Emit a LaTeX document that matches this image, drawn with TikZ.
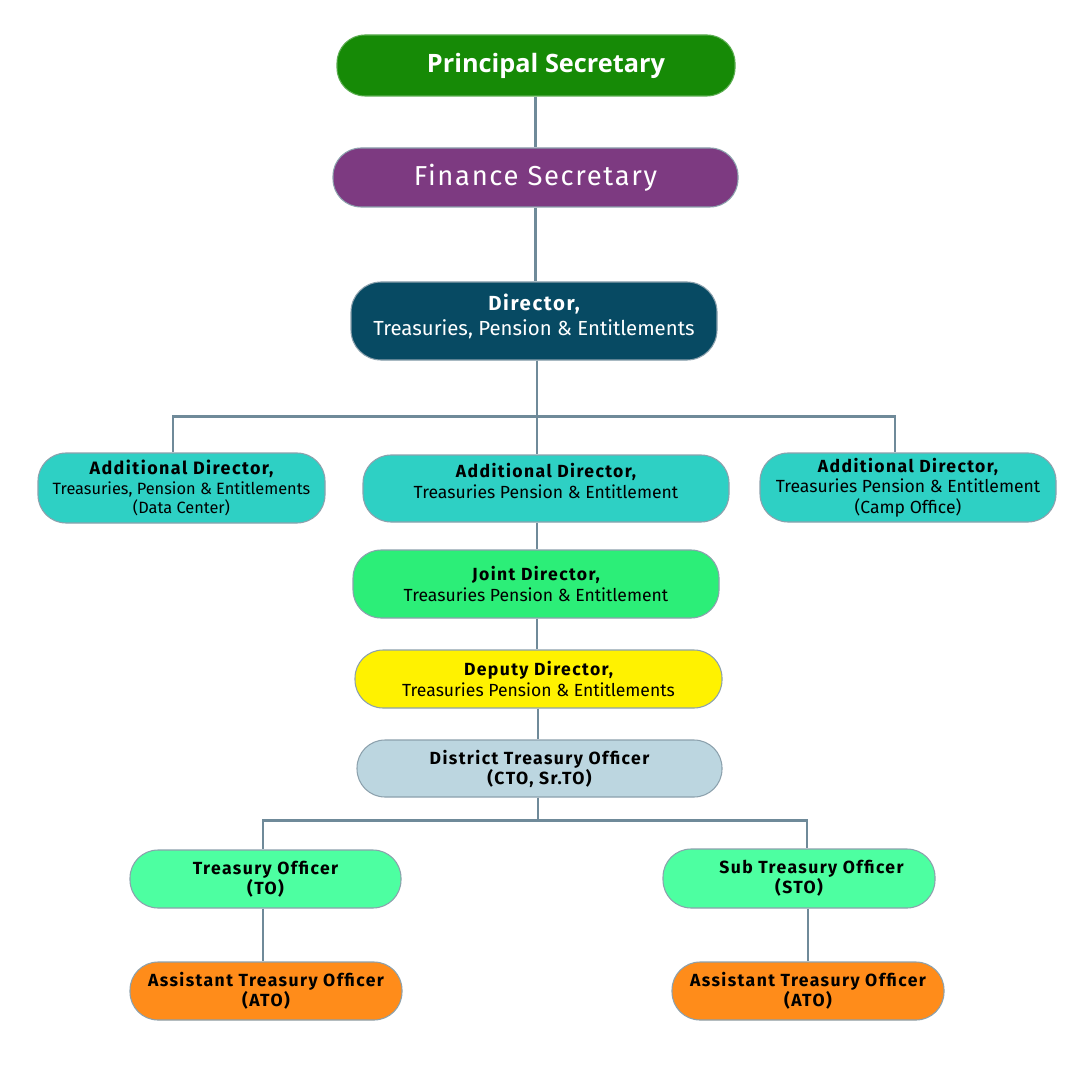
\documentclass[tikz,border=0pt]{standalone}
\usepackage{fontspec}
\setmainfont{Fira Sans}
\newfontfamily\headfont{Open Sans}
\usetikzlibrary{positioning}

\definecolor{psgreen}{HTML}{168A06}
\definecolor{fspurple}{HTML}{7D3A81}
\definecolor{dirblue}{HTML}{074A63}
\definecolor{adteal}{HTML}{2ED0C4}
\definecolor{jdgreen}{HTML}{2CEE78}
\definecolor{ddyellow}{HTML}{FFF200}
\definecolor{dtoblue}{HTML}{BCD6E0}
\definecolor{tomint}{HTML}{4DFFA1}
\definecolor{atoorange}{HTML}{FF8C1A}
\definecolor{linkgray}{HTML}{6F8A99}

% bold, spaced first line of a box
\newcommand{\hd}[1]{{\bfseries\addfontfeature{LetterSpace=8}#1}}

\begin{document}
\begin{tikzpicture}[
    box/.style={draw=linkgray!80, line width=0.3pt, rounded corners=0.28cm,
        align=center, inner sep=0pt, font=\fontsize{5}{5.9}\selectfont},
    boldbox/.style={box, font=\fontsize{5}{5.7}\selectfont\bfseries
        \addfontfeature{LetterSpace=8}},
    link/.style={draw=linkgray, line width=0.6pt}]
    \useasboundingbox (0,0) rectangle (10.8,-10.8);
    \fill[white] (0,0) rectangle (10.8,-10.8);

    \node[box, fill=psgreen, draw=psgreen!70!white, text=white,
        font=\headfont\bfseries\fontsize{7.2}{9}\selectfont,
        minimum width=3.98cm, minimum height=0.61cm] (principal) at (5.36,-0.655)
        {\hspace{0.2cm}Principal Secretary};
    \node[box, fill=fspurple, text=white, minimum width=4.05cm,
        font=\fontsize{7.8}{9}\selectfont\addfontfeature{LetterSpace=6},
        minimum height=0.59cm] (finance) at (5.355,-1.775) {Finance Secretary};
    \node[box, fill=dirblue, text=white, rounded corners=0.3cm,
        font=\fontsize{5.8}{7.1}\selectfont,
        minimum width=3.66cm, minimum height=0.78cm] (director) at (5.34,-3.21)
        {\hd{Director,}\\Treasuries, Pension \& Entitlements\\[-0.12cm]};

    \node[box, fill=adteal, minimum width=2.87cm, minimum height=0.70cm,
        font=\fontsize{4.65}{5.5}\selectfont] (adleft) at (1.815,-4.88)
        {\hd{\fontsize{5.1}{5.5}\selectfont Additional Director,}\\
        Treasuries, Pension \& Entitlements\\(Data Center)};
    \node[box, fill=adteal, minimum width=3.66cm, minimum height=0.67cm,
        font=\fontsize{5}{6}\selectfont] (admid) at (5.46,-4.885)
        {\hd{Additional Director,}\\Treasuries Pension \& Entitlement\\[-0.05cm]};
    \node[box, fill=adteal, minimum width=2.96cm, minimum height=0.69cm]
        (adright) at (9.08,-4.875)
        {\hd{Additional Director,}\\Treasuries Pension \& Entitlement\\
        (Camp Office)};

    \node[box, fill=jdgreen, minimum width=3.66cm, minimum height=0.68cm,
        font=\fontsize{5}{6}\selectfont] (joint) at (5.36,-5.84)
        {\hd{Joint Director,}\\Treasuries Pension \& Entitlement};
    \node[box, fill=ddyellow, minimum width=3.67cm, minimum height=0.58cm,
        font=\fontsize{5}{6}\selectfont] (deputy) at (5.385,-6.79)
        {\hd{Deputy Director,}\\Treasuries Pension \& Entitlements};
    \node[boldbox, fill=dtoblue, minimum width=3.65cm, minimum height=0.57cm]
        (dto) at (5.395,-7.685) {District Treasury Officer\\(CTO, Sr.TO)};

    \node[boldbox, fill=tomint, minimum width=2.71cm, minimum height=0.58cm]
        (to) at (2.655,-8.79) {Treasury Officer\\(TO)};
    \node[boldbox, fill=tomint, minimum width=2.72cm, minimum height=0.59cm]
        (sto) at (7.99,-8.785) {\hspace{0.25cm}Sub Treasury Officer\\(STO)};
    \node[boldbox, fill=atoorange, minimum width=2.72cm, minimum height=0.58cm]
        (atoleft) at (2.66,-9.91) {Assistant Treasury Officer\\(ATO)};
    \node[boldbox, fill=atoorange, minimum width=2.72cm, minimum height=0.58cm]
        (atoright) at (8.08,-9.91) {Assistant Treasury Officer\\(ATO)};

    \draw[link] (principal.south -| finance.north) -- (finance.north);
    \draw[link] (finance.south) -- (finance.south |- director.north);
    \draw[link] ([xshift=0.03cm]director.south) -- ++(0,-0.56)
        -| ([xshift=-0.085cm]adleft.north);
    \draw[link] ([xshift=0.03cm]director.south) -- ++(0,-0.56)
        -| ([xshift=-0.13cm]adright.north);
    \draw[link] ([xshift=0.03cm]director.south)
        -- ([xshift=0.03cm]director.south |- admid.north);
    \draw[link] ([xshift=0.01cm]admid.south -| joint.north)
        -- ([xshift=0.01cm]joint.north);
    \draw[link] ([xshift=0.01cm]joint.south)
        -- ([xshift=0.01cm]joint.south |- deputy.north);
    \draw[link] ([xshift=-0.015cm]deputy.south -| dto.north)
        -- ([xshift=-0.015cm]dto.north);
    \draw[link] ([xshift=-0.015cm]dto.south) -- ++(0,-0.23)
        -| ([xshift=-0.025cm]to.north);
    \draw[link] ([xshift=-0.015cm]dto.south) -- ++(0,-0.23)
        -| ([xshift=0.08cm]sto.north);
    \draw[link] ([xshift=-0.025cm]to.south)
        -- ([xshift=-0.025cm]to.south |- atoleft.north);
    \draw[link] (sto.south -| atoright.north) -- (atoright.north);
\end{tikzpicture}
\end{document}
